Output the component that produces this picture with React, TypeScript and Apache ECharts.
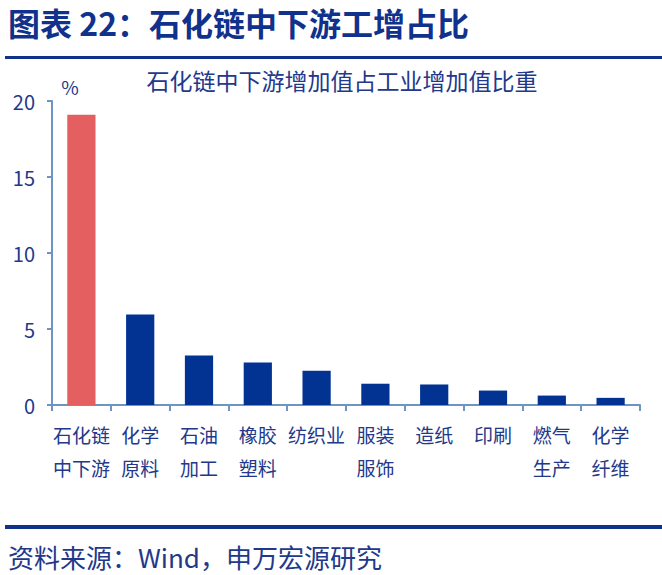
import React, { useEffect, useRef } from "react";
import * as echarts from "echarts";

const categories = [
  "石化链\n中下游",
  "化学\n原料",
  "石油\n加工",
  "橡胶\n塑料",
  "纺织业",
  "服装\n服饰",
  "造纸",
  "印刷",
  "燃气\n生产",
  "化学\n纤维",
];
const values = [19.1, 5.95, 3.25, 2.8, 2.25, 1.4, 1.35, 0.95, 0.62, 0.47];
const highlightIndex = 0;
const yTicks = { min: 0, max: 20, interval: 5 };

const FONT = '"Noto Sans CJK SC", "Noto Sans", sans-serif';
const DARK = "#10318c";
const TEXT = "#22388a";
const AXIS = "#6f94c4";
const BLUE = "#023393";
const RED = "#e45f5f";

export default function App() {
  const ref = useRef<HTMLDivElement>(null);
  useEffect(() => {
    const chart = echarts.init(ref.current!, null, { renderer: "svg" });
    chart.setOption({
      animation: false,
      backgroundColor: "#ffffff",
      grid: { left: 52, right: 22, top: 101, bottom: 170, containLabel: false },
      xAxis: {
        type: "category",
        data: categories,
        axisLine: { lineStyle: { color: AXIS, width: 2 } },
        axisTick: { show: true, alignWithLabel: false, length: 6, lineStyle: { color: AXIS, width: 2 } },
        axisLabel: {
          color: TEXT,
          fontFamily: FONT,
          fontSize: 19,
          lineHeight: 33,
          margin: 13,
          interval: 0,
          verticalAlign: "top",
        },
      },
      yAxis: {
        type: "value",
        min: yTicks.min,
        max: yTicks.max,
        interval: yTicks.interval,
        splitLine: { show: false },
        axisLine: { show: true, lineStyle: { color: AXIS, width: 2 } },
        axisTick: { show: true, length: 5, lineStyle: { color: AXIS, width: 2 } },
        axisLabel: { color: TEXT, fontFamily: FONT, fontSize: 20, margin: 17 },
      },
      series: [
        {
          type: "bar",
          data: values.map((v, i) => ({
            value: v,
            itemStyle: { color: i === highlightIndex ? RED : BLUE },
          })),
          barWidth: "48%",
        },
      ],
      graphic: [
        {
          type: "text",
          left: 8,
          top: 6,
          style: {
            text: "图表 22：石化链中下游工增占比",
            fill: DARK,
            font: `bold 32px ${FONT}`,
          },
        },
        {
          type: "rect",
          shape: { x: 5, y: 56, width: 662, height: 3 },
          style: { fill: DARK },
        },
        {
          type: "text",
          x: 342,
          y: 80,
          style: {
            text: "石化链中下游增加值占工业增加值比重",
            fill: TEXT,
            font: `23px ${FONT}`,
            align: "center",
            verticalAlign: "middle",
          },
        },
        {
          type: "text",
          x: 70,
          y: 86,
          style: {
            text: "%",
            fill: TEXT,
            font: `19px ${FONT}`,
            align: "center",
            verticalAlign: "middle",
          },
        },
        {
          type: "rect",
          shape: { x: 5, y: 525, width: 662, height: 4 },
          style: { fill: DARK },
        },
        {
          type: "text",
          x: 8,
          y: 556,
          style: {
            text: "资料来源：Wind，申万宏源研究",
            fill: TEXT,
            font: `26px ${FONT}`,
            lineHeight: 28,
            verticalAlign: "middle",
          },
        },
      ],
    });
    return () => chart.dispose();
  }, []);
  return (
    <div
      ref={ref}
      style={{ position: "fixed", left: 0, top: 0, width: 662, height: 575 }}
    />
  );
}
